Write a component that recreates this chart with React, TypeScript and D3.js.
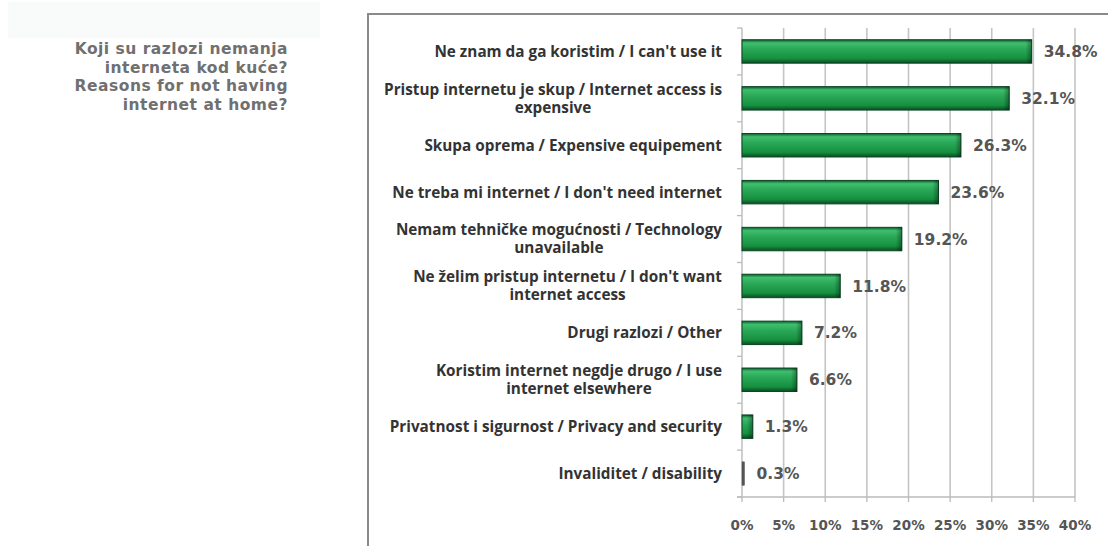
import React from "react";
import * as d3 from "d3";

const categories: string[] = [
  "Ne znam da ga koristim / I can't use it",
  "Pristup internetu je skup / Internet access is\nexpensive",
  "Skupa oprema / Expensive equipement",
  "Ne treba mi internet / I don't need internet",
  "Nemam tehničke mogućnosti / Technology\nunavailable",
  "Ne želim pristup internetu / I don't want\ninternet access",
  "Drugi razlozi / Other",
  "Koristim internet negdje drugo / I use\ninternet elsewhere",
  "Privatnost i sigurnost / Privacy and security",
  "Invaliditet / disability",
];
const values: number[] = [34.8, 32.1, 26.3, 23.6, 19.2, 11.8, 7.2, 6.6, 1.3, 0.3];
const xTicks: number[] = [0, 5, 10, 15, 20, 25, 30, 35, 40];
const titleLines: string[] = [
  "Koji su razlozi nemanja",
  "interneta kod kuće?",
  "Reasons for not having",
  "internet at home?",
];

const W = 1108;
const H = 546;
const plot = { left: 742, right: 1075, top: 28, bottom: 497 };

const labelFont = "'Open Sans', 'DejaVu Sans', sans-serif";
const numFont = "'DejaVu Sans', Verdana, sans-serif";
const titleFont = "'DejaVu Sans', Verdana, sans-serif";
const labelSize = 15.3;

let ctx: CanvasRenderingContext2D | null = null;
function measure(text: string, font: string): number {
  if (!ctx) {
    const c = document.createElement("canvas");
    ctx = c.getContext("2d");
  }
  if (!ctx) return text.length * 7.5;
  ctx.font = font;
  return ctx.measureText(text).width;
}

export default function App() {
  const x = d3.scaleLinear().domain([0, 40]).range([plot.left, plot.right]);
  const y = d3
    .scaleBand<number>()
    .domain(d3.range(categories.length))
    .range([plot.top, plot.bottom])
    .paddingInner(0.5)
    .paddingOuter(0.25);
  const step = y.step();
  const boundaries = d3.range(categories.length + 1).map((i) => plot.top + i * step);
  const labelRight = 722;

  return (
    <svg
      width={W}
      height={H}
      style={{ position: "absolute", left: 0, top: 0, background: "#fff" }}
    >
      <defs>
        <linearGradient id="barGrad" x1="0" y1="0" x2="0" y2="1">
          <stop offset="0%" stopColor="#0d5a2d" />
          <stop offset="14%" stopColor="#3fbf6e" />
          <stop offset="40%" stopColor="#29a858" />
          <stop offset="80%" stopColor="#16903f" />
          <stop offset="100%" stopColor="#0a4c24" />
        </linearGradient>
        <linearGradient id="endShade" x1="0" y1="0" x2="1" y2="0">
          <stop offset="0%" stopColor="#000" stopOpacity={0} />
          <stop offset="100%" stopColor="#000" stopOpacity={0.35} />
        </linearGradient>
      </defs>

      {/* faint header band */}
      <rect x={8} y={2} width={312} height={36} fill="#f9fafa" />

      {/* title */}
      {titleLines.map((t, i) => (
        <text
          key={i}
          x={288}
          y={54 + i * 18.5}
          textAnchor="end"
          fontFamily={titleFont}
          fontWeight="bold"
          fontSize={15.5}
          letterSpacing={0.5}
          fill="#707070"
        >
          {t}
        </text>
      ))}

      {/* frame */}
      <rect x={368} y={14} width={W} height={H} fill="none" stroke="#8a8a8a" strokeWidth={2} />

      {/* gridlines */}
      {xTicks.map((t) => (
        <line
          key={t}
          x1={x(t)}
          x2={x(t)}
          y1={plot.top}
          y2={plot.bottom}
          stroke="#c4c4c4"
          strokeWidth={1.6}
        />
      ))}

      {/* y-axis ticks */}
      {boundaries.map((b, i) => (
        <line key={i} x1={plot.left - 5} x2={plot.left} y1={b} y2={b} stroke="#bbb" strokeWidth={1.3} />
      ))}

      {/* x-axis line */}
      <line x1={plot.left - 5} x2={plot.right} y1={plot.bottom} y2={plot.bottom} stroke="#bbb" strokeWidth={1.6} />
      {xTicks.map((t) => (
        <line key={t} x1={x(t)} x2={x(t)} y1={plot.bottom} y2={plot.bottom + 5} stroke="#bbb" strokeWidth={1.3} />
      ))}

      {/* bars */}
      {values.map((v, i) => {
        const by = y(i)!;
        const bw = x(v) - x(0);
        return (
          <g key={i}>
            <rect
              x={x(0)}
              y={by}
              width={bw}
              height={y.bandwidth()}
              fill={v < 1 ? "#555" : "url(#barGrad)"}
              stroke={v < 1 ? "#555" : "#0b4522"}
              strokeWidth={v < 1 ? 0.5 : 1}
            />
            {v >= 1 && (
              <rect
                x={x(0) + Math.max(bw - 6, 0)}
                y={by}
                width={Math.min(6, bw)}
                height={y.bandwidth()}
                fill="url(#endShade)"
              />
            )}
            <text
              x={x(v) + 12}
              y={by + y.bandwidth() / 2}
              dy="0.36em"
              fontFamily={numFont}
              fontWeight="bold"
              fontSize={15.5}
              fill="#555"
            >
              {v.toFixed(1)}%
            </text>
          </g>
        );
      })}

      {/* category labels */}
      {categories.map((c, i) => {
        const lines = c.split("\n");
        const cy = y(i)! + y.bandwidth() / 2;
        const lh = 18;
        const start = cy - ((lines.length - 1) * lh) / 2;
        const firstW = measure(lines[0], `700 ${labelSize}px ${labelFont}`);
        const centerX = labelRight - firstW / 2;
        return (
          <g key={i}>
            {lines.map((l, j) => (
              <text
                key={j}
                x={j === 0 ? labelRight : centerX}
                y={start + j * lh}
                dy="0.35em"
                textAnchor={j === 0 ? "end" : "middle"}
                fontFamily={labelFont}
                fontWeight={700}
                fontSize={labelSize}
                fill="#333"
              >
                {l}
              </text>
            ))}
          </g>
        );
      })}

      {/* x tick labels */}
      {xTicks.map((t) => (
        <text
          key={t}
          x={x(t)}
          y={525}
          dy="0.35em"
          textAnchor="middle"
          fontFamily={numFont}
          fontWeight="bold"
          fontSize={13.5}
          fill="#555"
        >
          {t}%
        </text>
      ))}
    </svg>
  );
}
